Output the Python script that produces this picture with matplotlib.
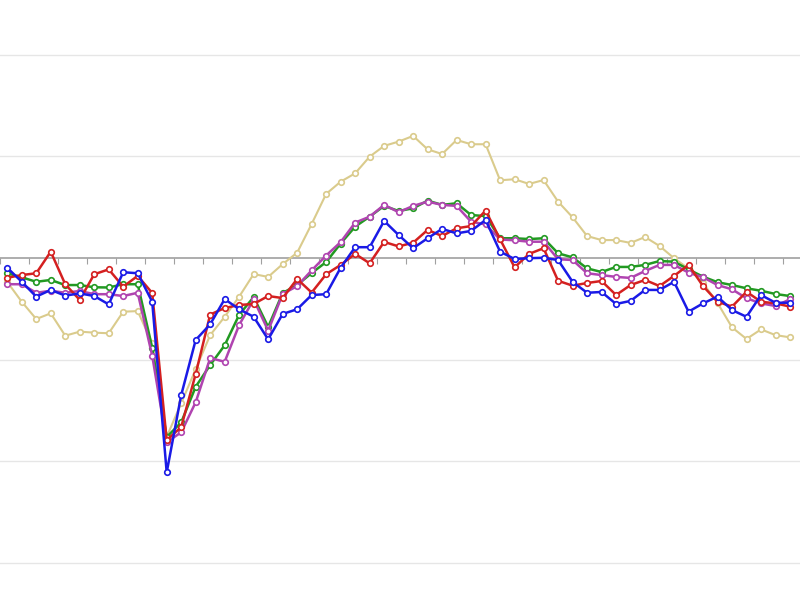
import numpy as np
import matplotlib
matplotlib.use("Agg")
import matplotlib.pyplot as plt

# values, one point per period
red = [-0.97, -0.84, -0.75, 0.31, -1.29, -2.06, -0.80, -0.56, -1.41, -0.88,
       -1.72, -8.95, -8.31, -5.70, -2.78, -2.46, -2.31, -2.26, -1.87, -1.97,
       -1.03, -1.70, -0.80, -0.34, 0.20, -0.26, 0.79, 0.57, 0.75, 1.38,
       1.08, 1.46, 1.57, 2.33, 0.92, -0.46, 0.20, 0.48, -1.12, -1.36,
       -1.23, -1.13, -1.82, -1.33, -1.08, -1.38, -0.88, -0.34, -1.38, -2.15,
       -2.39, -1.66, -2.15, -2.23, -2.39]
blue = [-0.48, -1.17, -1.90, -1.57, -1.85, -1.74, -1.87, -2.28, -0.70, -0.75,
        -2.15, -10.54, -6.74, -4.03, -3.26, -2.02, -2.52, -2.89, -4.00, -2.75,
        -2.52, -1.82, -1.78, -0.48, 0.53, 0.53, 1.82, 1.13, 0.48, 0.97,
        1.43, 1.21, 1.33, 1.87, 0.31, -0.05, -0.01, 0.01, -0.10, -1.17,
        -1.71, -1.67, -2.26, -2.11, -1.57, -1.57, -1.17, -2.64, -2.23, -1.90,
        -2.56, -2.89, -1.82, -2.20, -2.20]
green = [-0.75, -0.95, -1.17, -1.08, -1.33, -1.33, -1.44, -1.45, -1.29, -1.29,
         -4.41, -8.80, -8.08, -6.33, -5.26, -4.29, -2.79, -1.92, -3.39, -1.72,
         -1.33, -0.74, -0.20, 0.71, 1.54, 2.03, 2.56, 2.31, 2.44, 2.82,
         2.61, 2.69, 2.11, 2.06, 0.97, 0.97, 0.93, 0.97, 0.23, 0.03,
         -0.51, -0.69, -0.44, -0.44, -0.34, -0.15, -0.18, -0.56, -0.92, -1.19,
         -1.33, -1.49, -1.61, -1.77, -1.87]
purple = [-1.29, -1.29, -1.71, -1.61, -1.71, -1.62, -1.78, -1.78, -1.87, -1.71,
          -4.80, -9.05, -8.57, -7.09, -4.92, -5.10, -3.29, -2.04, -3.57, -1.77,
          -1.38, -0.61, 0.12, 0.78, 1.74, 2.03, 2.61, 2.25, 2.56, 2.77,
          2.61, 2.56, 1.78, 1.65, 0.91, 0.87, 0.80, 0.80, -0.06, -0.10,
          -0.75, -0.84, -0.93, -0.98, -0.64, -0.34, -0.34, -0.72, -0.95, -1.33,
          -1.54, -1.98, -2.23, -2.36, -2.03]
tan = [-1.18, -2.15, -3.00, -2.72, -3.82, -3.62, -3.67, -3.70, -2.64, -2.61,
       -4.19, -8.79, -7.14, -5.47, -3.79, -2.89, -1.90, -0.79, -0.93, -0.30,
       0.26, 1.67, 3.15, 3.75, 4.16, 4.98, 5.51, 5.72, 6.00, 5.34,
       5.11, 5.80, 5.59, 5.59, 3.82, 3.87, 3.64, 3.83, 2.77, 2.00,
       1.08, 0.88, 0.88, 0.74, 1.03, 0.59, -0.01, -0.52, -1.23, -2.21,
       -3.41, -3.98, -3.51, -3.79, -3.90]

x = np.arange(len(red))

fig = plt.figure(figsize=(8, 6), dpi=100)
ax = fig.add_axes([0, 0, 1, 1])

series = [
    (tan, "#dacb8c", 1.5),
    (green, "#229922", 1.8),
    (purple, "#b044b0", 1.8),
    (red, "#d42020", 1.8),
    (blue, "#1a1ae6", 1.8),
]
for vals, col, lw in series:
    ax.plot(x, vals, color=col, lw=lw, marker="o", ms=4,
            mfc="white", mec=col, mew=1.2, zorder=3)

ax.set_xlim(-0.483, 54.69)
ax.set_ylim(-16.81, 12.68)

ax.set_yticks([-15, -10, -5, 5, 10])
ax.yaxis.grid(True, color="#e6e6e6", lw=1)
ax.tick_params(axis="y", length=0, labelleft=False)

for side in ["top", "left", "right"]:
    ax.spines[side].set_visible(False)
ax.spines["bottom"].set_position(("data", 0))
ax.spines["bottom"].set_color("#a0a0a0")
ax.spines["bottom"].set_linewidth(1.2)
ax.spines["bottom"].set_zorder(2)
ax.set_xticks(np.arange(-0.5, 55, 2))
ax.tick_params(axis="x", direction="out", length=4, color="#a0a0a0",
               labelbottom=False)
ax.set_axisbelow(True)

fig.savefig("out.png", dpi=100)
